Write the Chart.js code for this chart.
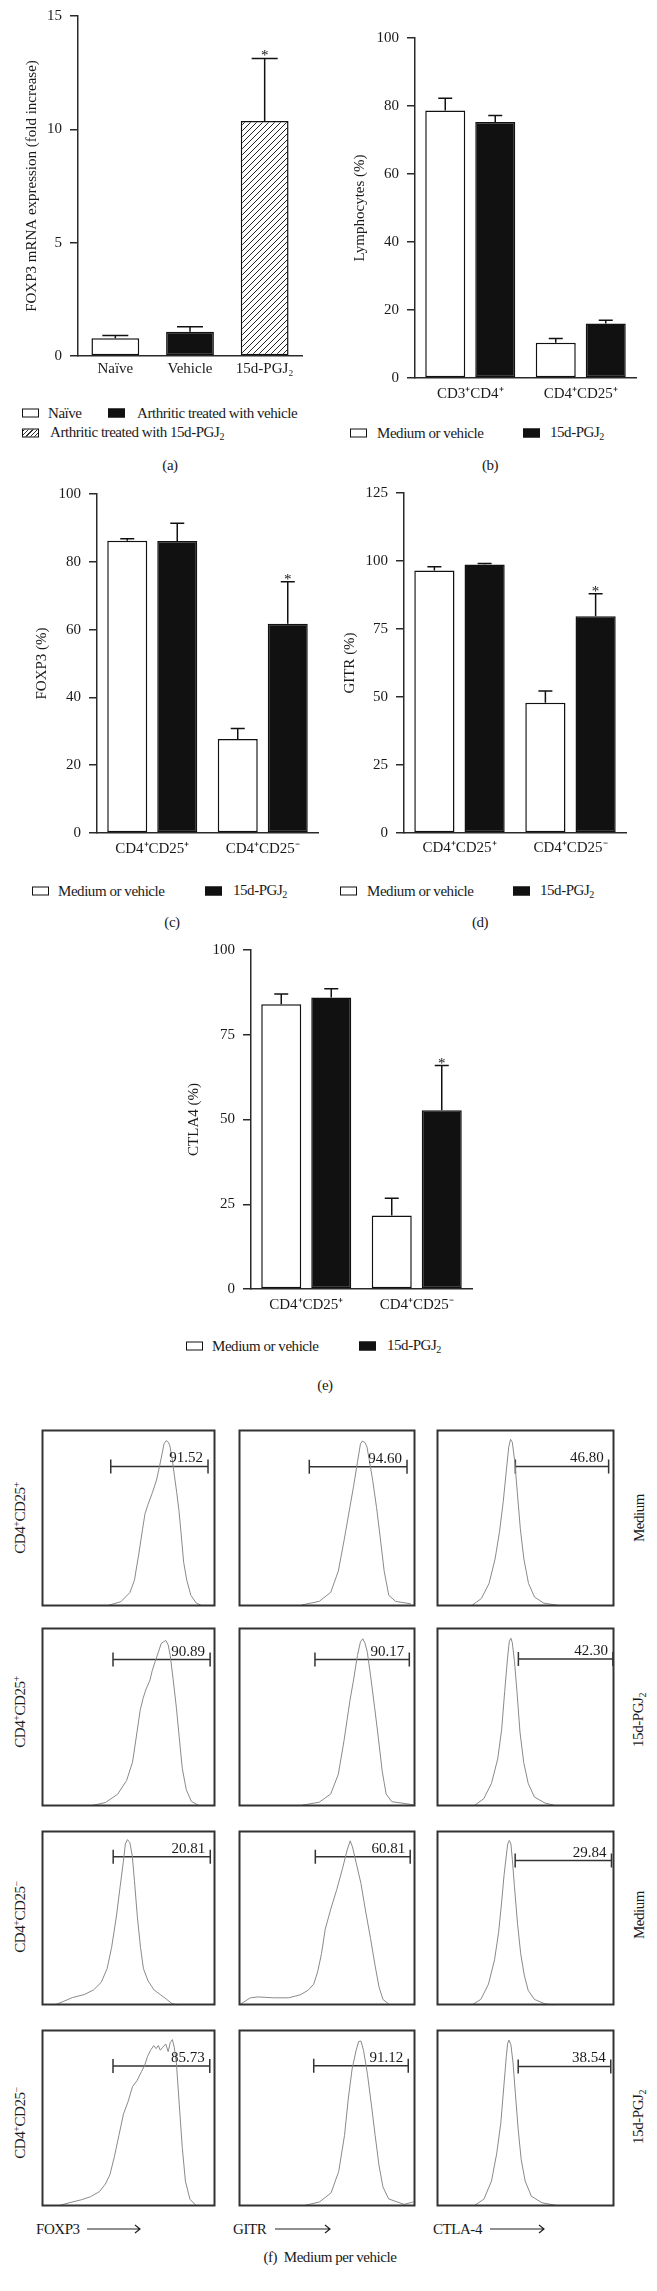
<!DOCTYPE html>
<html>
<head>
<meta charset="utf-8">
<script src="https://cdn.jsdelivr.net/npm/chart.js@4.4.0/dist/chart.umd.min.js"></script>
<style>
  body { margin: 0; background: #fff; width: 657px; height: 2291px; position: relative; overflow: hidden;
         font-family: "Liberation Serif", "Times New Roman", serif; color: #1a1a1a; }
  canvas { position: absolute; }
  .t, .m, .r { position: absolute; font-size: 15px; line-height: 1; white-space: nowrap; letter-spacing: -0.45px; }
  .t { transform: translateY(-50%); }
  .m { transform: translate(-50%, -50%); }
  .r { transform: translate(-50%, -50%) rotate(-90deg); }
  .sw { position: absolute; width: 15px; height: 7px; border: 1.5px solid #111; background: #fff; transform: translateY(-50%); }
  .sw.k { background: #111; }
  .sw.h { background: repeating-linear-gradient(-45deg, #fff 0 2px, #333 2px 3px); }
  sup, sub { font-size: 10px; }
  sup { vertical-align: 5px; }
  sub { vertical-align: -3px; }
  svg { position: absolute; }
</style>
</head>
<body>
<!-- legends and panel letters -->
<div class="sw" style="left:22px;top:413px"></div><div class="t" style="left:48px;top:413px">Naïve</div>
<div class="sw k" style="left:108px;top:413px"></div><div class="t" style="left:137px;top:413px">Arthritic treated with vehicle</div>
<div class="sw h" style="left:22px;top:433px"></div><div class="t" style="left:50px;top:433px">Arthritic treated with 15d-PGJ<sub>2</sub></div>
<div class="m" style="left:170px;top:465px">(a)</div>

<div class="sw" style="left:350px;top:433px"></div><div class="t" style="left:377px;top:433px">Medium or vehicle</div>
<div class="sw k" style="left:523px;top:433px"></div><div class="t" style="left:550px;top:433px">15d-PGJ<sub>2</sub></div>
<div class="m" style="left:490px;top:465px">(b)</div>

<div class="sw" style="left:32px;top:891px"></div><div class="t" style="left:58px;top:891px">Medium or vehicle</div>
<div class="sw k" style="left:205px;top:891px"></div><div class="t" style="left:233px;top:891px">15d-PGJ<sub>2</sub></div>
<div class="m" style="left:172px;top:922px">(c)</div>

<div class="sw" style="left:340px;top:891px"></div><div class="t" style="left:367px;top:891px">Medium or vehicle</div>
<div class="sw k" style="left:513px;top:891px"></div><div class="t" style="left:540px;top:891px">15d-PGJ<sub>2</sub></div>
<div class="m" style="left:480px;top:922px">(d)</div>

<div class="sw" style="left:186px;top:1346px"></div><div class="t" style="left:212px;top:1346px">Medium or vehicle</div>
<div class="sw k" style="left:359px;top:1346px"></div><div class="t" style="left:387px;top:1346px">15d-PGJ<sub>2</sub></div>
<div class="m" style="left:325px;top:1385px">(e)</div>

<!-- panel f labels -->
<div class="r" style="left:20px;top:1518px">CD4<sup>+</sup>CD25<sup>+</sup></div>
<div class="r" style="left:20px;top:1712px">CD4<sup>+</sup>CD25<sup>+</sup></div>
<div class="r" style="left:20px;top:1917px">CD4<sup>+</sup>CD25<sup>−</sup></div>
<div class="r" style="left:20px;top:2123px">CD4<sup>+</sup>CD25<sup>−</sup></div>
<div class="r" style="left:639px;top:1518px">Medium</div>
<div class="r" style="left:639px;top:1720px">15d-PGJ<sub>2</sub></div>
<div class="r" style="left:639px;top:1915px">Medium</div>
<div class="r" style="left:639px;top:2117px">15d-PGJ<sub>2</sub></div>
<div class="t" style="left:36px;top:2229px">FOXP3</div>
<div class="t" style="left:233px;top:2229px">GITR</div>
<div class="t" style="left:433px;top:2229px">CTLA-4</div>
<svg style="left:0;top:2219px" width="657" height="20">
  <g stroke="#222" stroke-width="1.2" fill="none">
    <path d="M87 10 H140 M135 6 L140 10 L135 14"/>
    <path d="M275 10 H330 M325 6 L330 10 L325 14"/>
    <path d="M490 10 H544 M539 6 L544 10 L539 14"/>
  </g>
</svg>
<div class="m" style="left:330px;top:2257px">(f)&nbsp; Medium per vehicle</div>

<script>
// ---- panel (a) ----
const aLabels = ['Naïve', 'Vehicle', ['15d-PGJ₂']];
const aValues = [0.78, 1.07, 10.37];
const aErrors = [0.12, 0.22, 2.76];
const aStars = [false, false, true];
const aTicks = { max: 15, step: 5 };

// ---- panels (b)-(e): [Medium or vehicle, 15d-PGJ2] ----
const bLabels = ['CD3⁺CD4⁺', 'CD4⁺CD25⁺'];
const bMedium = [78.7, 10.4];
const bMediumErr = [3.6, 1.2];
const bPgj = [75.3, 16.0];
const bPgjErr = [1.9, 1.0];

const cdLabels = ['CD4⁺CD25⁺', 'CD4⁺CD25⁻'];
const cMedium = [86.2, 27.7];
const cMediumErr = [0.6, 3.1];
const cPgj = [86.1, 61.7];
const cPgjErr = [5.3, 12.4];
const cStars = [false, true];

const dMedium = [96.5, 47.9];
const dMediumErr = [1.4, 4.3];
const dPgj = [98.7, 79.7];
const dPgjErr = [0.4, 8.3];
const dStars = [false, true];

const eMedium = [84.0, 21.7];
const eMediumErr = [3.0, 5.1];
const ePgj = [86.0, 52.7];
const ePgjErr = [2.6, 13.2];
const eStars = [false, true];

// ---- panel (f): histograms, [x %, y %] of each box ----
const foxp3PosMedium = [[38.6,0.7],[45.6,2.7],[50.8,7.9],[53.4,14.8],[56.0,30.2],[58.1,43.9],[59.5,52.5],[61.2,57.6],[63.8,64.5],[66.1,71.4],[67.8,79.1],[69.4,86.8],[70.4,91.9],[71.7,93.7],[72.9,92.8],[73.7,91.1],[75.1,83.4],[76.5,73.1],[77.7,64.5],[79.0,54.2],[80.3,40.5],[81.7,25.0],[83.5,14.8],[85.9,6.2],[89.0,1.9],[91.7,0.7]];
const gitrPosMedium = [[35.9,0.9],[45.6,2.9],[52.1,8.0],[56.4,20.0],[59.6,37.1],[62.9,55.9],[65.0,67.9],[67.2,81.5],[68.9,91.8],[70.0,93.5],[71.5,92.6],[72.6,90.1],[74.1,81.5],[75.8,71.3],[78.0,55.9],[80.1,38.8],[82.3,20.0],[84.9,6.3],[88.8,2.9],[97.4,1.5]];
const ctlaPosMedium = [[20.0,0.7],[25.2,4.5],[29.5,13.0],[32.9,26.8],[35.4,42.2],[37.5,59.3],[39.2,76.5],[40.6,90.2],[41.6,94.5],[42.6,92.8],[44.0,81.6],[45.4,64.5],[47.1,43.9],[49.1,26.8],[51.7,13.0],[55.1,5.3],[60.3,1.9],[68.0,0.7]];
const foxp3PosPgj = [[28.9,0.5],[36.7,2.2],[43.7,6.8],[48.9,14.5],[52.3,24.7],[54.4,38.3],[56.7,53.7],[58.4,60.5],[60.1,65.6],[62.4,70.7],[63.6,75.8],[65.3,80.9],[67.1,86.0],[68.8,91.1],[70.2,92.0],[71.4,92.8],[72.8,90.3],[74.0,84.3],[75.7,70.7],[77.5,55.4],[79.2,38.3],[80.9,21.3],[83.2,9.4],[86.1,2.9],[90.5,0.5]];
const gitrPosPgj = [[35.9,0.7],[45.6,2.4],[52.1,7.0],[56.4,18.0],[59.6,36.7],[62.9,58.8],[65.0,70.7],[67.2,84.4],[68.9,92.0],[70.2,93.7],[71.5,91.2],[72.8,86.1],[74.7,72.4],[76.9,55.4],[79.0,38.4],[81.2,19.7],[83.4,7.0],[86.6,2.7],[98.5,1.0]];
const ctlaPosPgj = [[21.5,0.7],[26.6,4.4],[30.9,13.0],[34.4,26.6],[36.6,43.0],[38.3,64.2],[39.9,82.9],[40.9,92.3],[41.8,94.0],[42.6,91.5],[43.8,81.2],[45.2,64.2],[46.9,41.6],[49.0,24.6],[51.5,13.0],[55.0,5.3],[61.0,1.9],[66.2,0.7]];
const foxp3NegMedium = [[7.3,0.2],[12.5,2.3],[17.7,4.5],[24.7,6.3],[29.9,8.9],[34.3,13.2],[37.7,21.0],[40.3,33.2],[43.0,50.6],[45.2,68.0],[47.0,81.9],[48.2,92.3],[49.4,94.8],[50.8,93.0],[52.2,85.4],[53.4,71.5],[55.1,50.6],[56.9,33.2],[58.6,21.0],[61.2,14.1],[64.7,8.9],[68.2,6.3],[71.7,3.7],[75.1,1.0],[78.6,0.2]];
const gitrNegMedium = [[1.3,0.9],[6.7,4.4],[11.1,4.9],[19.7,4.4],[28.4,4.4],[34.9,6.1],[39.3,8.7],[42.5,12.2],[44.7,19.2],[46.9,29.6],[49.0,43.6],[52.3,55.7],[55.5,66.2],[58.8,78.4],[61.4,88.9],[63.1,94.1],[64.4,90.6],[66.4,81.9],[69.2,69.7],[71.8,54.0],[74.6,38.3],[77.2,22.6],[79.4,10.5],[81.6,3.5],[84.8,0.9]];
const ctlaNegMedium = [[19.8,0.3],[24.9,3.5],[29.2,12.2],[32.6,26.1],[34.9,41.8],[36.6,59.2],[38.0,74.9],[39.2,85.4],[40.0,92.3],[40.9,94.3],[41.8,92.3],[42.6,83.6],[43.8,67.9],[45.5,47.0],[47.3,29.6],[49.3,17.4],[51.5,8.7],[55.0,3.5],[61.0,0.9],[66.2,0.3]];
const foxp3NegPgj = [[10.7,0.7],[15.9,2.1],[22.9,3.8],[28.1,5.5],[33.3,8.4],[36.7,12.7],[39.3,17.9],[41.9,28.2],[44.5,40.2],[47.1,52.2],[49.7,59.1],[52.3,67.7],[54.9,71.1],[57.5,76.3],[59.3,79.7],[61.0,84.9],[62.7,88.3],[64.5,90.9],[65.9,89.2],[67.1,90.9],[68.3,88.3],[69.7,90.0],[71.4,91.8],[72.8,87.5],[74.0,92.6],[75.2,94.3],[76.3,90.0],[77.5,81.4],[79.2,57.4],[80.9,33.3],[82.7,14.4],[85.3,4.1],[88.7,0.7]];
const gitrNegPgj = [[37.1,0.5],[45.8,2.6],[52.3,7.7],[56.6,19.7],[59.9,40.2],[62.0,60.7],[64.2,77.8],[66.4,88.0],[67.9,93.2],[69.2,93.5],[70.7,88.0],[72.9,74.4],[75.1,57.3],[77.2,40.2],[79.4,23.1],[81.6,11.1],[84.8,4.3],[93.5,1.2],[98.9,2.6]];
const ctlaNegPgj = [[21.5,0.7],[26.6,4.1],[30.9,14.4],[33.8,29.8],[36.1,46.9],[37.8,67.5],[39.2,84.6],[40.0,92.3],[40.7,94.0],[41.8,91.4],[43.0,81.2],[44.3,64.0],[45.9,43.5],[47.6,26.4],[49.8,14.4],[53.3,5.8],[59.3,2.1],[67.0,0.7]];

const histCurves = [foxp3PosMedium, gitrPosMedium, ctlaPosMedium,
                    foxp3PosPgj, gitrPosPgj, ctlaPosPgj,
                    foxp3NegMedium, gitrNegMedium, ctlaNegMedium,
                    foxp3NegPgj, gitrNegPgj, ctlaNegPgj];
const gateStart = [39.8, 40.0, 44.3, 41.1, 43.2, 46.0, 41.2, 43.4, 44.2, 41.1, 42.5, 45.9];
const gateEnd   = [95.7, 95.2, 96.7, 96.9, 96.5, 99.1, 97.0, 97.0, 98.3, 96.7, 95.9, 97.9];
const gateLevel = [79.1, 79.0, 79.1, 82.1, 82.1, 82.4, 85.0, 85.0, 82.8, 79.4, 79.5, 79.1];
const gateText  = ['91.52', '94.60', '46.80', '90.89', '90.17', '42.30', '20.81', '60.81', '29.84', '85.73', '91.12', '38.54'];

Chart.defaults.font.family = '"Liberation Serif", "Times New Roman", serif';
Chart.defaults.color = '#1a1a1a';
Chart.defaults.animation = false;

const INK = '#2a2a2a';
const FONT = { size: 15 };

function makeCanvas(left, top, w, h) {
  const c = document.createElement('canvas');
  c.width = w; c.height = h;
  c.style.left = left + 'px'; c.style.top = top + 'px';
  c.style.width = w + 'px'; c.style.height = h + 'px';
  document.body.appendChild(c);
  return c;
}

function hatchPattern() {
  const c = document.createElement('canvas');
  c.width = 6; c.height = 6;
  const g = c.getContext('2d');
  g.fillStyle = '#fff';
  g.fillRect(0, 0, 6, 6);
  g.strokeStyle = '#222';
  g.lineWidth = 1;
  g.beginPath();
  g.moveTo(0, 6); g.lineTo(6, 0);
  g.moveTo(-1, 1); g.lineTo(1, -1);
  g.moveTo(5, 7); g.lineTo(7, 5);
  g.stroke();
  return g.createPattern(c, 'repeat');
}

// upward error bars, caps and stars
const errorBars = {
  id: 'errorBars',
  afterDatasetsDraw(chart) {
    const ctx = chart.ctx;
    const yScale = chart.scales.y;
    ctx.save();
    ctx.strokeStyle = '#111';
    ctx.lineWidth = 1.5;
    chart.data.datasets.forEach(function (ds, di) {
      const meta = chart.getDatasetMeta(di);
      meta.data.forEach(function (bar, i) {
        const v = ds.data[i];
        const yTop = yScale.getPixelForValue(v + ds.err[i]);
        const half = ds.cap / 2;
        ctx.beginPath();
        ctx.moveTo(bar.x, bar.y);
        ctx.lineTo(bar.x, yTop);
        ctx.moveTo(bar.x - half, yTop);
        ctx.lineTo(bar.x + half, yTop);
        ctx.stroke();
        if (ds.star && ds.star[i]) {
          ctx.fillStyle = '#111';
          ctx.font = '15px "Liberation Serif", serif';
          ctx.textAlign = 'center';
          ctx.textBaseline = 'alphabetic';
          ctx.fillText('*', bar.x, yTop + 2);
        }
      });
    });
    ctx.restore();
  }
};

// one bar panel; L/R/T/B are where the axes sit on the page
function barPanel(g, labels, datasets, yMax, yStep, title) {
  const cx = g.titleX - 13;
  const yw = g.L - cx;
  const pt = g.T - g.top;
  const xh = 30, pr = 10;
  const w = g.R + pr - cx;
  const h = g.B + xh - g.top;
  const canvas = makeCanvas(cx, g.top, w, h);
  return new Chart(canvas.getContext('2d'), {
    type: 'bar',
    data: { labels: labels, datasets: datasets },
    options: {
      responsive: false,
      events: [],
      layout: { padding: { top: pt, left: 0, right: pr, bottom: 0 } },
      plugins: { legend: { display: false }, tooltip: { enabled: false } },
      scales: {
        x: {
          grid: { display: false, drawTicks: false },
          border: { display: true, color: INK, width: 1.5 },
          ticks: { font: FONT, color: '#1a1a1a', padding: g.xPad },
          afterFit(s) { s.height = xh; s.paddingLeft = 0; s.paddingRight = 0; }
        },
        y: {
          min: 0, max: yMax,
          ticks: { stepSize: yStep, font: FONT, color: '#1a1a1a', padding: 8 },
          grid: { drawOnChartArea: false, drawTicks: true, tickLength: 8, color: INK, lineWidth: 1.5 },
          border: { display: true, color: INK, width: 1.5 },
          title: { display: true, text: title, font: FONT, color: '#1a1a1a', padding: 4 },
          afterFit(s) { s.width = yw; s.paddingTop = 0; s.paddingBottom = 0; }
        }
      }
    },
    plugins: [errorBars]
  });
}

function pairSets(med, medErr, pgj, pgjErr, stars) {
  const common = { borderColor: '#111', borderWidth: 1.5, borderSkipped: false,
                   categoryPercentage: 0.905, barPercentage: 0.8, cap: 14 };
  return [
    Object.assign({ label: 'Medium or vehicle', data: med, err: medErr, backgroundColor: '#fff' }, common),
    Object.assign({ label: '15d-PGJ₂', data: pgj, err: pgjErr, star: stars, backgroundColor: '#111' }, common)
  ];
}

// (a)
barPanel({ titleX: 32, top: 0, L: 78, R: 302, T: 16, B: 356, xPad: 4 }, aLabels, [{
  label: 'FOXP3', data: aValues, err: aErrors, star: aStars, cap: 26,
  backgroundColor: ['#fff', '#111', hatchPattern()],
  borderColor: '#111', borderWidth: 1.5, borderSkipped: false,
  categoryPercentage: 1, barPercentage: 0.64
}], aTicks.max, aTicks.step, 'FOXP3 mRNA expression (fold increase)');

// (b)
barPanel({ titleX: 360, top: 0, L: 415, R: 636, T: 38, B: 378, xPad: 7 }, bLabels,
  pairSets(bMedium, bMediumErr, bPgj, bPgjErr, [false, false]), 100, 20, 'Lymphocytes (%)');

// (c)
barPanel({ titleX: 42, top: 470, L: 97, R: 318, T: 494, B: 833, xPad: 7 }, cdLabels,
  pairSets(cMedium, cMediumErr, cPgj, cPgjErr, cStars), 100, 20, 'FOXP3 (%)');

// (d)
barPanel({ titleX: 350, top: 470, L: 404, R: 626, T: 493, B: 833, xPad: 6 }, cdLabels,
  pairSets(dMedium, dMediumErr, dPgj, dPgjErr, dStars), 125, 25, 'GITR (%)');

// (e)
barPanel({ titleX: 194, top: 930, L: 251, R: 472, T: 950, B: 1289, xPad: 7 }, cdLabels,
  pairSets(eMedium, eMediumErr, ePgj, ePgjErr, eStars), 100, 25, 'CTLA4 (%)');

// (f) histogram grid
const frame = {
  id: 'frame',
  afterDraw(chart) {
    const a = chart.chartArea, ctx = chart.ctx;
    ctx.save();
    ctx.strokeStyle = '#333';
    ctx.lineWidth = 2;
    ctx.strokeRect(a.left + 1, a.top + 1, a.right - a.left - 2, a.bottom - a.top - 2);
    ctx.restore();
  }
};

const gateLabel = {
  id: 'gateLabel',
  afterDatasetsDraw(chart) {
    const ds = chart.data.datasets[1];
    const ctx = chart.ctx;
    const x = chart.scales.x.getPixelForValue(ds.data[1].x);
    const y = chart.scales.y.getPixelForValue(ds.data[1].y);
    ctx.save();
    ctx.fillStyle = '#1a1a1a';
    ctx.font = '15px "Liberation Serif", serif';
    ctx.textAlign = 'right';
    ctx.textBaseline = 'alphabetic';
    ctx.fillText(ds.gateText, x - 5, y - 4);
    ctx.restore();
  }
};

const colLeft = [33, 230, 428], colWidth = [191, 194, 195];
const rowTop = [1421, 1619, 1822, 2021], rowHeight = [194, 196, 192, 194];

histCurves.forEach(function (curve, i) {
  const r = Math.floor(i / 3), c = i % 3;
  const canvas = makeCanvas(colLeft[c], rowTop[r], colWidth[c], rowHeight[r]);
  new Chart(canvas.getContext('2d'), {
    type: 'scatter',
    data: {
      datasets: [
        { data: curve.map(function (p) { return { x: p[0], y: p[1] }; }), showLine: true,
          borderColor: '#8a8a8a', borderWidth: 1, pointRadius: 0, tension: 0 },
        { data: [{ x: gateStart[i], y: gateLevel[i] }, { x: gateEnd[i], y: gateLevel[i] }], showLine: true,
          borderColor: '#333', borderWidth: 1.5, pointStyle: 'line', rotation: 90, pointRadius: 7,
          pointBorderColor: '#333', pointBorderWidth: 1.5, gateText: gateText[i] }
      ]
    },
    options: {
      responsive: false,
      events: [],
      layout: { padding: 0 },
      plugins: { legend: { display: false }, tooltip: { enabled: false } },
      scales: {
        x: { type: 'linear', min: 0, max: 100, display: false },
        y: { min: 0, max: 100, display: false }
      }
    },
    plugins: [frame, gateLabel]
  });
});
</script>
</body>
</html>
